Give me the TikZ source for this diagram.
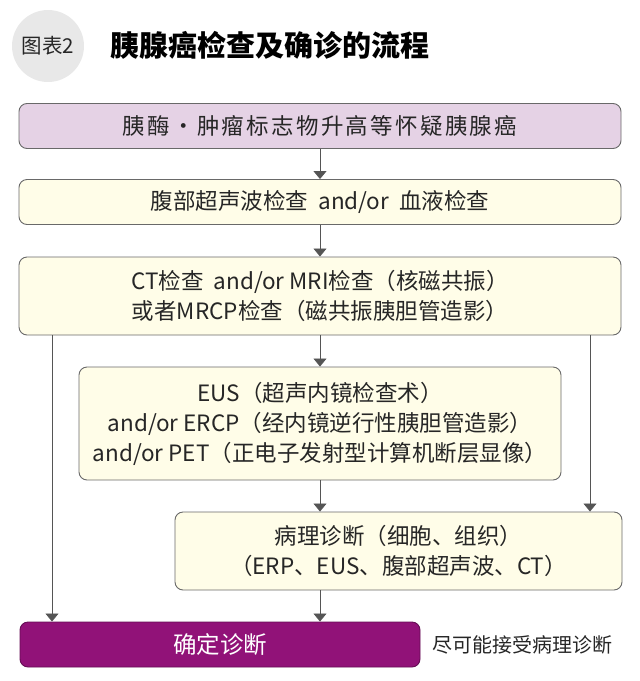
\documentclass[tikz,border=0pt]{standalone}
\usepackage{fontspec}
\setmainfont{Noto Sans CJK SC}
\usetikzlibrary{arrows.meta,calc}
\definecolor{pinkfill}{RGB}{229,210,229}
\definecolor{creamfill}{RGB}{255,253,232}
\definecolor{boxline}{RGB}{105,105,105}
\definecolor{purp}{RGB}{145,18,120}
\definecolor{circgray}{RGB}{232,232,232}
\definecolor{linegray}{RGB}{85,85,85}
\newcommand{\lsp}{\hspace{2.3pt}}
\tikzset{
  box/.style={draw=boxline, line width=0.9pt, rounded corners=8pt, align=center,
    font=\fontsize{22.5}{30}\selectfont, inner sep=0pt, text=black!85},
  pinkbox/.style={box, fill=pinkfill},
  creambox/.style={box, fill=creamfill},
  purpbox/.style={box, draw=purp!70!black, fill=purp, text=white, font=\fontsize{23.5}{30}\selectfont},
  arr/.style={draw=linegray, line width=0.8pt, -{Triangle[width=13pt,length=8pt]}},
}
\begin{document}
\begin{tikzpicture}[x=1pt,y=-1pt]
\useasboundingbox (0,0) rectangle (640,681);
\node[circle, fill=circgray, minimum size=72pt, inner sep=0pt,
      font=\fontsize{20.5}{22}\selectfont, text=black!85] (badge) at (48,46) {图表2};
\node[anchor=west, font=\fontsize{29}{32}\selectfont\bfseries, inner sep=0pt] (title) at (110,45) {胰腺癌检查及确诊的流程};

\node[pinkbox, minimum width=602pt, minimum height=45pt] (b1) at (320,126) {胰\lsp 酶\lsp ・\lsp 肿\lsp 瘤\lsp 标\lsp 志\lsp 物\lsp 升\lsp 高\lsp 等\lsp 怀\lsp 疑\lsp 胰\lsp 腺\lsp 癌};
\node[creambox, minimum width=602pt, minimum height=45pt] (b2) at (320,202) {腹部超声波检查\ \ and/or\ \ 血液检查};
\node[creambox, minimum width=602pt, minimum height=78pt] (b3) at (320,296) {CT检查\ \ and/or MRI检查（核磁共振）\\或者MRCP检查（磁共振胰胆管造影）};
\node[creambox, minimum width=482pt, minimum height=113pt] (b4) at (320,423.5) {EUS（超声内镜检查术）\\and/or ERCP（经内镜逆行性胰胆管造影）\\and/or PET（正电子发射型计算机断层显像）};
\node[creambox, minimum width=447pt, minimum height=78pt] (b5) at (398.5,551) {病理诊断（细胞、组织）\\（ERP、EUS、腹部超声波、CT）};
\node[purpbox, minimum width=400pt, minimum height=45pt] (b6) at (220,644.5) {确定诊断};
\node[anchor=west, inner sep=0pt, font=\fontsize{20}{24}\selectfont, text=black!85] (note) at (432,645) {尽可能接受病理诊断};

\coordinate (L) at (52,0);
\coordinate (R) at (590,0);
\draw[arr] (b1.south) -- (b2.north);
\draw[arr] (b2.south) -- (b3.north);
\draw[arr] (b3.south) -- (b4.north);
\draw[arr] (b4.south) -- (b4.south |- b5.north);
\draw[arr] (b4.south |- b5.south) -- (b4.south |- b6.north);
\draw[arr] (b3.south -| L) -- (b6.north -| L);
\draw[arr] (b3.south -| R) -- (b5.north -| R);
\end{tikzpicture}
\end{document}
